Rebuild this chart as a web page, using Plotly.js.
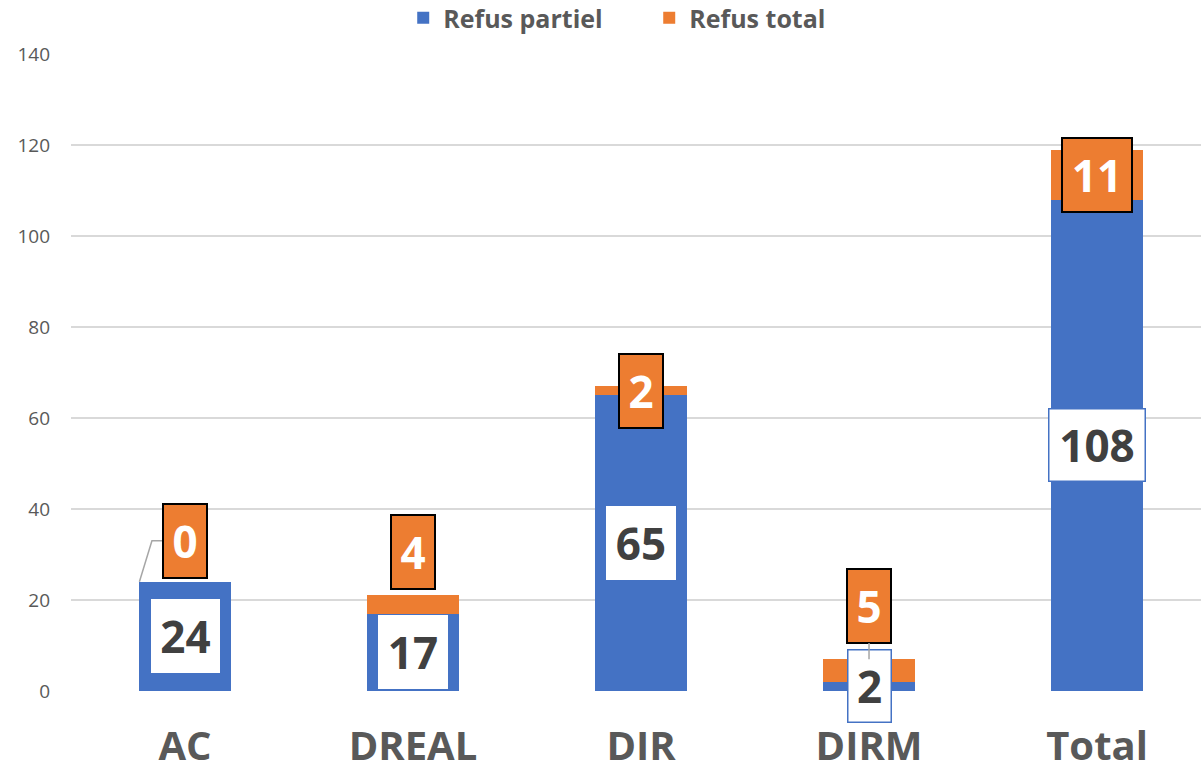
<!DOCTYPE html>
<html>
<head>
<meta charset="utf-8">
<script src="https://cdn.plot.ly/plotly-3.0.1.min.js"></script>
<style>
  html, body { margin: 0; padding: 0; background: #fff; }
  #chart { width: 1201px; height: 771px; }
</style>
</head>
<body>
<div id="chart"></div>
<script>
var categories = ['AC', 'DREAL', 'DIR', 'DIRM', 'Total'];
var partiel = [24, 17, 65, 2, 108];
var total = [0, 4, 2, 5, 11];
var yTicks = [0, 20, 40, 60, 80, 100, 120, 140];

var blue = '#4472C4';
var orange = '#ED7D31';
var grey = '#595959';
var FONT = '"Open Sans", "DejaVu Sans", sans-serif';

// where each label box sits (y in data units), and its size in px
var partielLabelY = [12, 8.5, 32.5, 1.1, 54];
var partielBoxW = [68, 69, 69, 44, 97];
var partielBorder = ['#ffffff', '#ffffff', '#ffffff', blue, blue];
var totalLabelY = [33, 30.5, 66, 18.7, 113.5];
var totalBoxW = [44, 44, 44, 44, 70];

var traces = [
  {
    x: categories, y: partiel, name: 'Refus partiel', type: 'bar',
    marker: {color: blue}, hoverinfo: 'y+name'
  },
  {
    x: categories, y: total, name: 'Refus total', type: 'bar',
    marker: {color: orange}, hoverinfo: 'y+name'
  }
];

var annotations = [];
for (var i = 0; i < categories.length; i++) {
  annotations.push({
    x: categories[i], y: partielLabelY[i], xref: 'x', yref: 'y',
    text: String(partiel[i]), showarrow: false,
    width: partielBoxW[i] - 4, height: 69,
    bgcolor: '#ffffff', bordercolor: partielBorder[i], borderwidth: 1.5, borderpad: 1,
    font: {family: FONT, size: 44, color: '#404040', weight: 'bold'}
  });
}
for (var j = 0; j < categories.length; j++) {
  var a = {
    x: categories[j], y: totalLabelY[j], xref: 'x', yref: 'y',
    text: String(total[j]), showarrow: false,
    width: totalBoxW[j] - 4, height: 70,
    bgcolor: orange, bordercolor: '#000000', borderwidth: 2, borderpad: 1,
    font: {family: FONT, size: 44, color: '#ffffff', weight: 'bold'}
  };
  if (categories[j] == 'DIRM') {
    // leader line down into the tiny bar
    a.showarrow = true;
    a.arrowhead = 0;
    a.arrowcolor = '#a6a6a6';
    a.arrowwidth = 1.5;
    a.x = 3; a.y = 7;
    a.axref = 'x'; a.ayref = 'y';
    a.ax = 3; a.ay = totalLabelY[j];
  }
  annotations.push(a);
}

var layout = {
  width: 1201, height: 771,
  margin: {l: 71, r: 0, t: 54, b: 80, autoexpand: false},
  paper_bgcolor: '#ffffff', plot_bgcolor: '#ffffff',
  barmode: 'stack',
  bargap: 0.6,
  font: {family: FONT, color: grey},
  showlegend: true,
  legend: {
    orientation: 'h', x: 0.294, xanchor: 'left', y: 1.0565, yanchor: 'middle',
    entrywidth: 201, entrywidthmode: 'pixels',
    font: {family: FONT, size: 25, color: grey, weight: 'bold'},
    traceorder: 'normal'
  },
  xaxis: {
    type: 'category',
    range: [-0.5, 4.456],
    showgrid: false, zeroline: false, showline: false,
    ticks: '', ticklabelstandoff: 28,
    tickfont: {family: FONT, size: 40, color: grey, weight: 'bold'}
  },
  yaxis: {
    range: [0, 140],
    tickvals: yTicks,
    showgrid: true, gridcolor: '#d9d9d9', gridwidth: 2,
    zeroline: false, showline: false, ticks: '',
    ticklabelstandoff: 20,
    tickfont: {family: FONT, size: 19, color: grey}
  },
  shapes: [
    {
      // leader line of the AC "0" label
      type: 'path', xref: 'x', yref: 'y',
      path: 'M -0.2,24 L -0.145,33 L -0.096,33',
      line: {color: '#a6a6a6', width: 1.5}
    }
  ],
  annotations: annotations
};

Plotly.newPlot('chart', traces, layout, {displayModeBar: false});
</script>
</body>
</html>
